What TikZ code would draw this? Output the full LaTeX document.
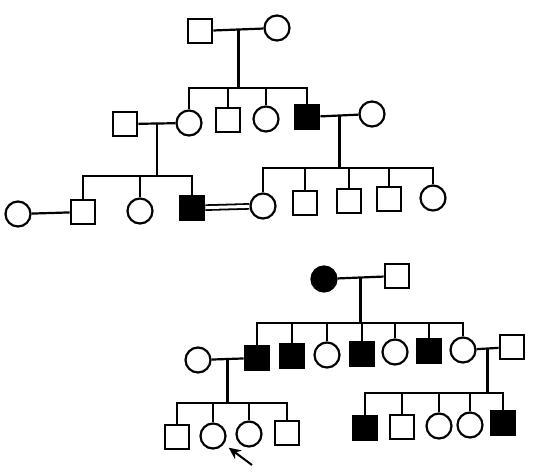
\documentclass[tikz,border=0pt]{standalone}
\usetikzlibrary{calc,arrows.meta}
\begin{document}
\begin{tikzpicture}[x=1pt, y=-1pt, line width=2.2pt,
  male/.style={draw, rectangle, minimum size=24.5pt, inner sep=0pt},
  female/.style={draw, circle, minimum size=25pt, inner sep=0pt},
  aff/.style={fill=black}]
\useasboundingbox (0,0) rectangle (533,475);
% first family, generation I
\node[male] (a1) at (200,31) {};
\node[female] (a2) at (277,28) {};
\draw (a1) -- (a2);
\coordinate (m1) at ($(a1)!.5!(a2)$);
\coordinate (s1) at (239,88);
\draw (m1) -- (m1 |- s1);
% generation II
\node[male] (b0) at (125,124) {};
\node[female] (b1) at (189,123) {};
\node[male] (b2) at (228,120) {};
\node[female] (b3) at (266,119) {};
\node[male, aff] (b4) at (307,117) {};
\node[female] (b5) at (372,114) {};
\draw (b1.north) |- (s1) -| (b4.north);
\foreach \n in {b2,b3} \draw (\n.north) -- (\n.north |- s1);
\draw (b0) -- (b1);
\draw (b4) -- (b5);
\coordinate (m2) at ($(b0)!.5!(b1)$);
\coordinate (s2) at (158,176);
\draw (m2) -- (m2 |- s2);
\coordinate (m3) at ($(b4)!.5!(b5)$);
\coordinate (s3) at (341,168);
\draw (m3) -- (m3 |- s3);
% generation III
\node[female] (c0) at (18,214) {};
\node[male] (c1) at (83,212) {};
\node[female] (c2) at (140,211) {};
\node[male, aff] (c3) at (192,208) {};
\node[female] (c4) at (263,206) {};
\node[male] (c5) at (305,203) {};
\node[male] (c6) at (349,201) {};
\node[male] (c7) at (389,199) {};
\node[female] (c8) at (433,198) {};
\draw (c0) -- (c1);
\draw[double, double distance=3pt, line width=1.8pt] (c3) -- (c4);
\draw (c1.north) |- (s2) -| (c3.north);
\draw (c2.north) -- (c2.north |- s2);
\draw (c4.north) |- (s3) -| (c8.north);
\foreach \n in {c5,c6,c7} \draw (\n.north) -- (\n.north |- s3);

% second family, generation I
\node[female, aff] (d1) at (324,279) {};
\node[male] (d2) at (397,276) {};
\draw (d1) -- (d2);
\coordinate (m4) at ($(d1)!.5!(d2)$);
\coordinate (s4) at (359,323);
\draw (m4) -- (m4 |- s4);
% generation II
\node[female] (e0) at (198,360) {};
\node[male, aff] (e1) at (257,358) {};
\node[male, aff] (e2) at (292,356) {};
\node[female] (e3) at (327,355) {};
\node[male, aff] (e4) at (362,354) {};
\node[female] (e5) at (395,352) {};
\node[male, aff] (e6) at (429,351) {};
\node[female] (e7) at (463,350) {};
\node[male] (e8) at (512,347) {};
\draw (e1.north) |- (s4) -| (e7.north);
\foreach \n in {e2,e3,e4,e5,e6} \draw (\n.north) -- (\n.north |- s4);
\draw (e0) -- (e1);
\draw (e7) -- (e8);
\coordinate (m5) at ($(e0)!.5!(e1)$);
\coordinate (s5) at (228,403);
\draw (m5) -- (m5 |- s5);
\coordinate (m6) at ($(e7)!.5!(e8)$);
\coordinate (s6) at (488,393);
\draw (m6) -- (m6 |- s6);
% generation III
\node[male] (f1) at (177,437) {};
\node[female] (f2) at (213,436) {};
\node[female] (f3) at (249,434) {};
\node[male] (f4) at (287,433) {};
\draw (f1.north) |- (s5) -| (f4.north);
\foreach \n in {f2,f3} \draw (\n.north) -- (\n.north |- s5);
\node[male, aff] (g1) at (365,428) {};
\node[male] (g2) at (402,427) {};
\node[female] (g3) at (439,426) {};
\node[female] (g4) at (470,425) {};
\node[male, aff] (g5) at (503,423) {};
\draw (g1.north) |- (s6) -| (g5.north);
\foreach \n in {g2,g3,g4} \draw (\n.north) -- (\n.north |- s6);
% proband
\coordinate (pt) at (252,465);
\draw[line width=2pt, -{Stealth[length=12pt, width=11pt]}, shorten >=6pt] (pt) -- (f2);
\end{tikzpicture}
\end{document}
